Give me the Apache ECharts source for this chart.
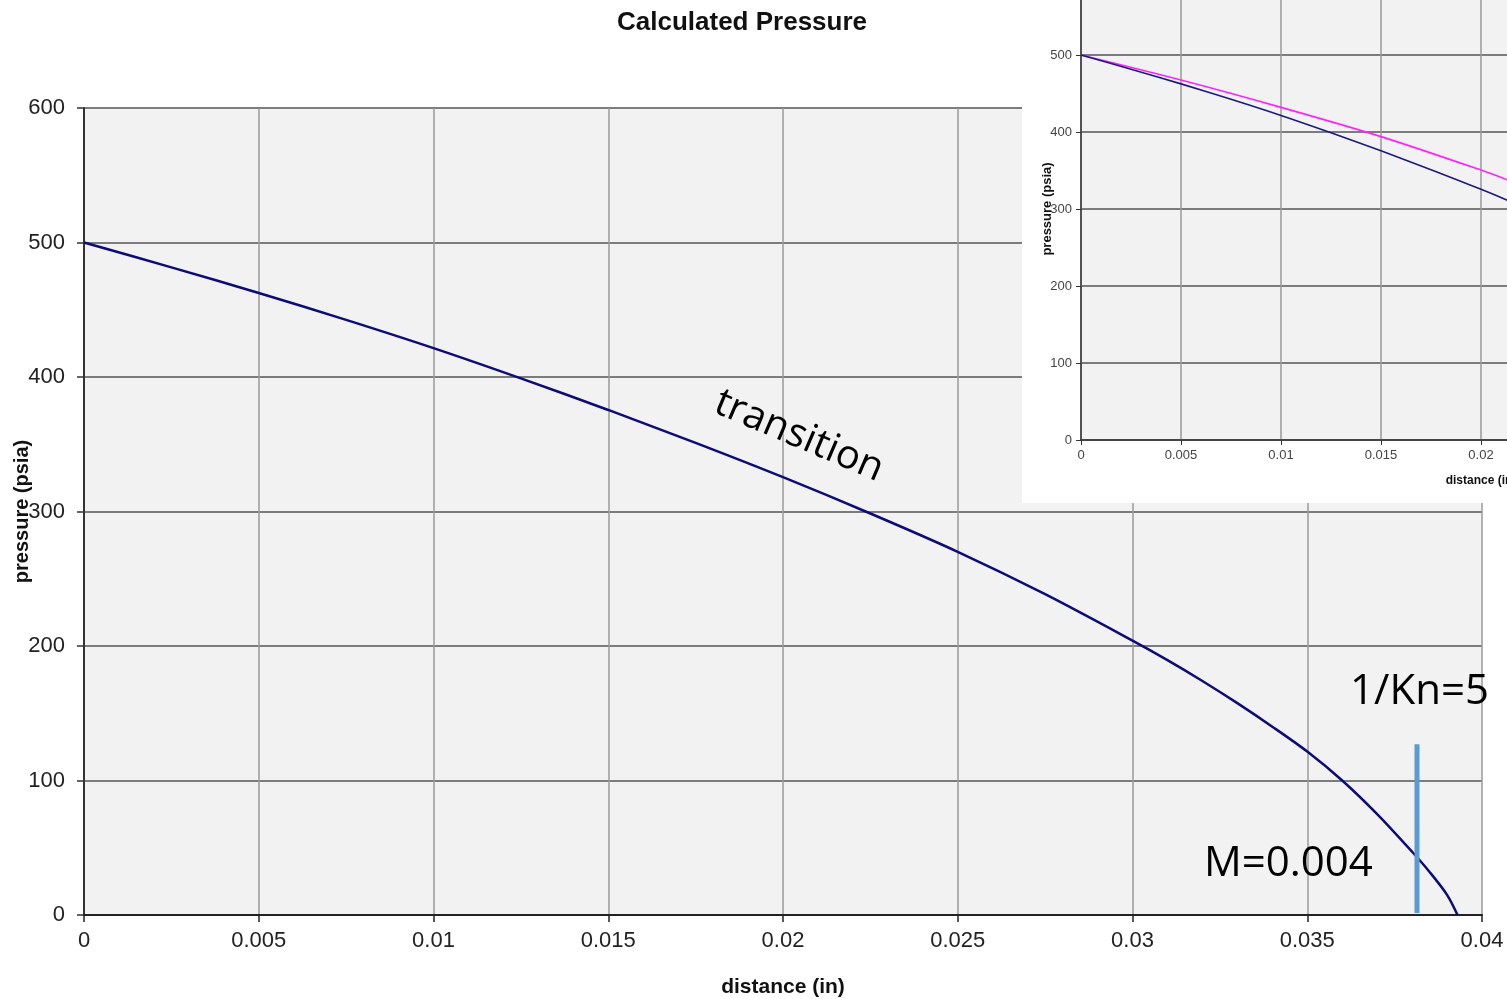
<!DOCTYPE html>
<html><head><meta charset="utf-8">
<script src="https://cdn.jsdelivr.net/npm/echarts@6/dist/echarts.min.js"></script>
<style>html,body{margin:0;padding:0;background:#fff}#c{width:1507px;height:999px}</style>
</head><body><div id="c"></div>
<script>
// Calculated pressure along the channel
const distance = [0, 0.0025, 0.005, 0.0075, 0.01, 0.0125, 0.015, 0.0175, 0.02, 0.0225, 0.025, 0.0275, 0.03, 0.031, 0.032, 0.033, 0.034, 0.035, 0.036, 0.037, 0.038, 0.0385, 0.039, 0.0393];
const pressure = [500, 481.5, 462.5, 442.5, 421.5, 399, 375.5, 351, 325.5, 298.5, 270, 238.5, 204, 189.5, 174, 157.5, 140, 121.5, 100, 75, 47, 32, 15, 0];
// Inset: second (magenta) series
const insetDistance = [0, 0.005, 0.01, 0.015, 0.02, 0.0215];
const insetPressure = [500, 467.5, 432, 394, 350.5, 336];
// Marker line 1/Kn=5
const markerDistance = [0.03814, 0.03814];
const markerPressure = [1.5, 127];

const pair = (xs, ys) => xs.map((x, i) => [x, ys[i]]);
const mainData = pair(distance, pressure);
const pinkData = pair(insetDistance, insetPressure);
const markerData = pair(markerDistance, markerPressure);

const chart = echarts.init(document.getElementById('c'));
const ff = 'Liberation Sans, Arial, sans-serif';
const vGrid = {show: true, lineStyle: {color: '#9a9a9a', width: 1.5}};
const hGrid = {show: true, lineStyle: {color: '#555', width: 1.5}};

chart.setOption({
  animation: false,
  backgroundColor: '#fff',
  title: {
    text: 'Calculated Pressure', left: 612, top: 5,
    textStyle: {fontFamily: ff, fontSize: 26, fontWeight: 'bold', color: '#111'}
  },
  grid: [
    {left: 84, top: 108, width: 1398, height: 807, show: true, backgroundColor: '#f2f2f2', borderWidth: 0,
      containLabel: false, outerBoundsMode: 'none'},
    {left: 1081, top: -22, width: 800, height: 462, show: true, backgroundColor: '#f2f2f2', borderWidth: 0,
      containLabel: false, outerBoundsMode: 'none', zlevel: 1, z: 5}
  ],
  xAxis: [
    {
      type: 'value', gridIndex: 0, min: 0, max: 0.04, interval: 0.005,
      name: 'distance (in)', nameLocation: 'middle', nameGap: 62, nameMoveOverlap: false,
      nameTextStyle: {fontFamily: ff, fontSize: 21, fontWeight: 'bold', color: '#111'},
      axisLine: {show: true, onZero: false, lineStyle: {color: '#222', width: 2}},
      axisTick: {show: true, inside: false, length: 7, lineStyle: {color: '#222', width: 1.5}},
      axisLabel: {margin: 15, fontFamily: ff, fontSize: 22, color: '#222'},
      splitLine: vGrid
    },
    {
      type: 'value', gridIndex: 1, min: 0, max: 0.04, interval: 0.005, zlevel: 1, z: 6,
      name: 'distance (in)', nameLocation: 'middle', nameGap: 35, nameMoveOverlap: false,
      nameTextStyle: {fontFamily: ff, fontSize: 12, fontWeight: 'bold', color: '#111'},
      axisLine: {show: true, onZero: false, lineStyle: {color: '#333', width: 1.5}},
      axisTick: {show: true, length: 5, lineStyle: {color: '#333'}},
      axisLabel: {margin: 9, fontFamily: ff, fontSize: 13, color: '#444'},
      splitLine: vGrid
    }
  ],
  yAxis: [
    {
      type: 'value', gridIndex: 0, min: 0, max: 600, interval: 100,
      name: 'pressure (psia)', nameLocation: 'middle', nameGap: 52, nameMoveOverlap: false,
      nameTextStyle: {fontFamily: ff, fontSize: 20, fontWeight: 'bold', color: '#111'},
      axisLine: {show: true, onZero: false, lineStyle: {color: '#333', width: 2}},
      axisTick: {show: true, length: 7, lineStyle: {color: '#333', width: 1.5}},
      axisLabel: {margin: 19, fontFamily: ff, fontSize: 22, color: '#222'},
      splitLine: hGrid
    },
    {
      type: 'value', gridIndex: 1, min: 0, max: 600, interval: 100, zlevel: 1, z: 6,
      name: 'pressure (psia)', nameLocation: 'middle', nameGap: 27, nameMoveOverlap: false,
      nameTextStyle: {fontFamily: ff, fontSize: 13, fontWeight: 'bold', color: '#111'},
      axisLine: {show: true, onZero: false, lineStyle: {color: '#333', width: 1.5}},
      axisTick: {show: true, length: 5, lineStyle: {color: '#333'}},
      axisLabel: {margin: 9, fontFamily: ff, fontSize: 13, color: '#444'},
      splitLine: hGrid
    }
  ],
  series: [
    {
      type: 'line', xAxisIndex: 0, yAxisIndex: 0, data: mainData, smooth: 0.3,
      showSymbol: false, lineStyle: {color: '#0c0c78', width: 2.5}, z: 3
    },
    {
      type: 'line', xAxisIndex: 0, yAxisIndex: 0, data: markerData,
      showSymbol: false, lineStyle: {color: '#5b9bd5', width: 5}, z: 4
    },
    {
      type: 'line', xAxisIndex: 1, yAxisIndex: 1, data: pinkData, smooth: 0.3, zlevel: 1, z: 8,
      showSymbol: false, lineStyle: {color: '#ff22ff', width: 1.6}
    },
    {
      type: 'line', xAxisIndex: 1, yAxisIndex: 1, data: mainData, smooth: 0.3, zlevel: 1, z: 8,
      showSymbol: false, lineStyle: {color: '#1a1a80', width: 1.6}
    }
  ],
  graphic: [
    {type: 'rect', zlevel: 1, z: 0, silent: true, shape: {x: 1022, y: 0, width: 485, height: 503}, style: {fill: '#fff'}},
    {type: 'text', x: 799, y: 436, rotation: -23 * Math.PI / 180, z: 20,
      style: {text: 'transition', x: 0, y: 0, font: '40px "Open Sans"', fill: '#000',
        align: 'center', verticalAlign: 'middle', textAlign: 'center', textVerticalAlign: 'middle'}},
    {type: 'text', x: 1350, y: 692, z: 20,
      style: {text: '1/Kn=5', font: '42px "Open Sans"', fill: '#000',
        align: 'left', verticalAlign: 'middle', textAlign: 'left', textVerticalAlign: 'middle'}},
    {type: 'text', x: 1204, y: 864, z: 20,
      style: {text: 'M=0.004', font: '42px "Open Sans"', fill: '#000',
        align: 'left', verticalAlign: 'middle', textAlign: 'left', textVerticalAlign: 'middle'}}
  ]
});
</script></body></html>
